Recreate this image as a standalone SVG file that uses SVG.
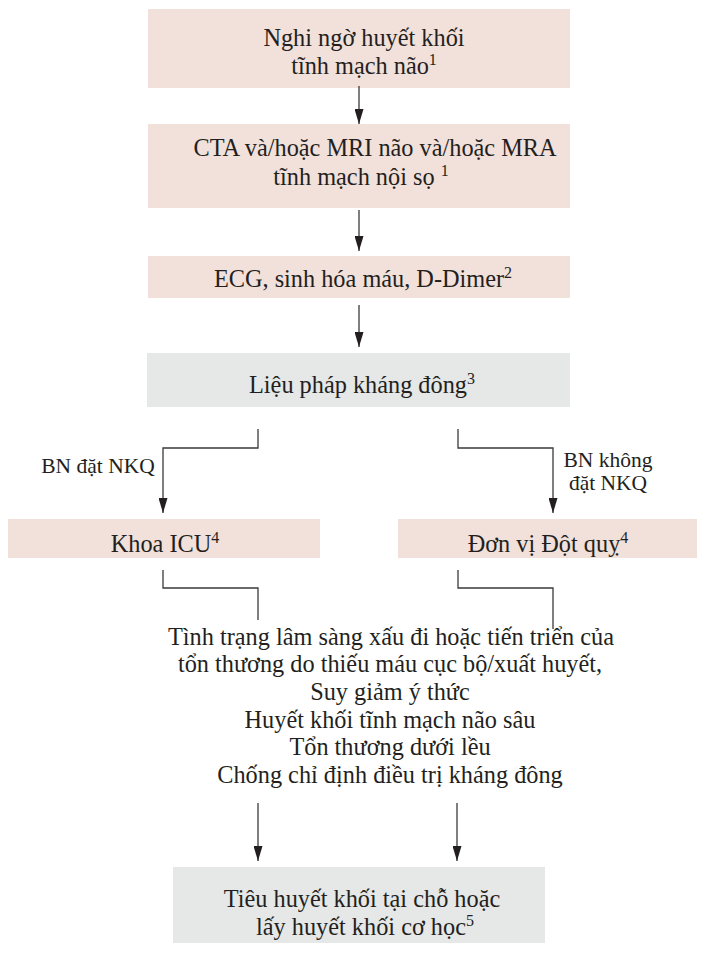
<svg xmlns="http://www.w3.org/2000/svg" width="704" height="954" viewBox="0 0 704 954">
<defs>
<marker id="arr" markerWidth="15" markerHeight="9" refX="15" refY="4.5" orient="auto" markerUnits="userSpaceOnUse" viewBox="0 0 15 9">
<path d="M0,0 L15,4.5 L0,9 Z" fill="#231f20"/>
</marker>
<style>
.pink{fill:#f2e0da}
.grey{fill:#e6e7e7}
.t{font-family:"Liberation Serif","Times New Roman",serif;font-size:24.3px;fill:#231f20;text-anchor:middle}
.s{font-family:"Liberation Serif","Times New Roman",serif;font-size:21.5px;fill:#231f20;text-anchor:middle}
.sup{font-size:16px}
.c{fill:none;stroke:#3a3a3a;stroke-width:1.3}
</style>
</defs>
<rect width="704" height="954" fill="#ffffff"/>

<g id="n1">
<rect class="pink" x="148" y="9" width="422" height="79"/>
<text class="t" x="364" y="46">Nghi ngờ huyết khối</text>
<text class="t" x="364" y="74">tĩnh mạch não<tspan class="sup" dy="-9">1</tspan></text>
</g>

<g id="n2">
<rect class="pink" x="148" y="124" width="422" height="84"/>
<text class="t" x="375" y="156">CTA và/hoặc MRI não và/hoặc MRA</text>
<text class="t" x="361" y="185">tĩnh mạch nội sọ <tspan class="sup" dy="-9">1</tspan></text>
</g>

<g id="n3">
<rect class="pink" x="148" y="256" width="422" height="42"/>
<text class="t" x="363" y="287">ECG, sinh hóa máu, D-Dimer<tspan class="sup" dy="-9">2</tspan></text>
</g>

<g id="n4">
<rect class="grey" x="147" y="353" width="423" height="54"/>
<text class="t" x="362" y="393">Liệu pháp kháng đông<tspan class="sup" dy="-9">3</tspan></text>
</g>

<g id="n5">
<rect class="pink" x="8" y="519" width="312" height="39"/>
<text class="t" x="165" y="552">Khoa ICU<tspan class="sup" dy="-9">4</tspan></text>
</g>

<g id="n6">
<rect class="pink" x="398" y="519" width="299" height="39"/>
<text class="t" x="548" y="552">Đơn vị Đột quỵ<tspan class="sup" dy="-9">4</tspan></text>
</g>

<g id="n7">
<text class="t" x="391" y="645">Tình trạng lâm sàng xấu đi hoặc tiến triển của</text>
<text class="t" x="390" y="672">tổn thương do thiếu máu cục bộ/xuất huyết,</text>
<text class="t" x="390" y="700">Suy giảm ý thức</text>
<text class="t" x="390" y="728">Huyết khối tĩnh mạch não sâu</text>
<text class="t" x="390" y="755">Tổn thương dưới lều</text>
<text class="t" x="390" y="783">Chống chỉ định điều trị kháng đông</text>
</g>

<g id="n8">
<rect class="grey" x="173" y="867" width="372" height="76"/>
<text class="t" x="362" y="907">Tiêu huyết khối tại chỗ hoặc</text>
<text class="t" x="365" y="935">lấy huyết khối cơ học<tspan class="sup" dy="-9">5</tspan></text>
</g>

<g id="labels">
<text class="s" x="98" y="473">BN đặt NKQ</text>
<text class="s" x="608" y="467">BN không</text>
<text class="s" x="608" y="490">đặt NKQ</text>
</g>

<g id="connectors">
<path class="c" d="M359,86 V124" marker-end="url(#arr)"/>
<path class="c" d="M359,210 V251" marker-end="url(#arr)"/>
<path class="c" d="M359,305 V347" marker-end="url(#arr)"/>
<path class="c" d="M258,429 V448 H163 V513" marker-end="url(#arr)"/>
<path class="c" d="M458,429 V448 H553 V513" marker-end="url(#arr)"/>
<path class="c" d="M163,570 V588 H258 V620"/>
<path class="c" d="M458,570 V588 H553 V629"/>
<path class="c" d="M258,803 V861" marker-end="url(#arr)"/>
<path class="c" d="M457,803 V861" marker-end="url(#arr)"/>
</g>
</svg>
